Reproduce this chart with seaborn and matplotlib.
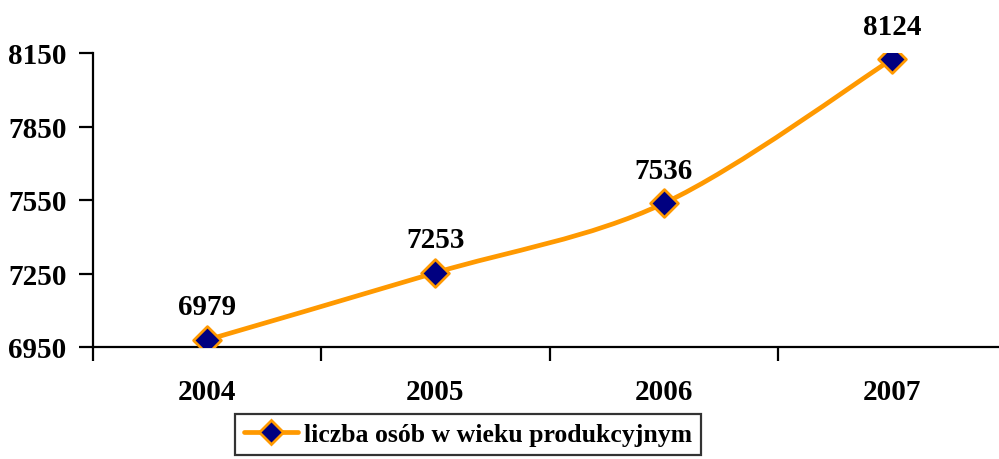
import matplotlib
matplotlib.use("Agg")
import matplotlib.pyplot as plt
import seaborn as sns
import pandas as pd
import numpy as np
from matplotlib.path import Path
from matplotlib.patches import PathPatch
from matplotlib.lines import Line2D

years = ["2004", "2005", "2006", "2007"]
values = [6979, 7253, 7536, 8124]
series_name = "liczba osób w wieku produkcyjnym"
y_ticks = [6950, 7250, 7550, 7850, 8150]

sns.set_theme(style="white")
plt.rcParams['font.family'] = ['Liberation Serif', 'DejaVu Serif']
plt.rcParams['font.weight'] = 'bold'
plt.rcParams['text.color'] = 'black'
plt.rcParams['xtick.color'] = 'black'
plt.rcParams['ytick.color'] = 'black'
plt.rcParams['xtick.labelcolor'] = 'black'
plt.rcParams['ytick.labelcolor'] = 'black'

LINE = "#FF9900"
FILL = "#000080"

fig = plt.figure(figsize=(9.99, 4.6), dpi=100)
W, H = 999, 460
ax = fig.add_axes([93 / W, 1 - 348 / H, (1006 - 93) / W, (348 - 54) / H])

df = pd.DataFrame({"x": np.arange(len(years)), "y": values})

# smooth (Excel-style Bezier) line through the data points
xs = df["x"].to_numpy(float)
ys = df["y"].to_numpy(float)
pts = np.column_stack([xs, ys])
ext = np.vstack([pts[0], pts, pts[-1]])
verts = [tuple(pts[0])]
codes = [Path.MOVETO]
for i in range(len(pts) - 1):
    p0, p1, p2, p3 = ext[i], ext[i + 1], ext[i + 2], ext[i + 3]
    c1 = p1 + (p2 - p0) / 6.0
    c2 = p2 - (p3 - p1) / 6.0
    verts += [tuple(c1), tuple(c2), tuple(p2)]
    codes += [Path.CURVE4] * 3
ax.add_patch(PathPatch(Path(verts, codes), facecolor="none", edgecolor=LINE,
                       lw=3.4, capstyle="round", joinstyle="round", zorder=2))

sns.scatterplot(data=df, x="x", y="y", marker="D", s=200, color=FILL,
                edgecolor=LINE, linewidth=2.0, ax=ax, zorder=3, legend=False)

for xi, yi in zip(xs, ys):
    ax.annotate(f"{int(yi)}", (xi, yi), xytext=(0, 14), textcoords="offset points",
                ha="center", va="bottom", fontsize=21, fontweight="bold", color="black")

ax.set_xlim(-0.5, len(years) - 0.5)
ax.set_ylim(6950, 8150)
ax.set_yticks(y_ticks)
ax.set_yticklabels([str(t) for t in y_ticks])
ax.set_xticks(np.arange(len(years)))
ax.set_xticklabels(years)
ax.set_xticks(np.arange(len(years) + 1) - 0.5, minor=True)
ax.tick_params(axis="x", which="major", length=0, pad=22, labelsize=21, labelcolor="black")
ax.tick_params(axis="x", which="minor", length=10, width=1.6, direction="out", color="black", bottom=True)
ax.tick_params(axis="y", which="major", length=10, width=1.6, direction="out", color="black",
               left=True, pad=9, labelsize=21, labelcolor="black")
for lab in ax.get_xticklabels() + ax.get_yticklabels():
    lab.set_fontweight("bold")
ax.set_xlabel("")
ax.set_ylabel("")
for s in ["top", "right"]:
    ax.spines[s].set_visible(False)
for s in ["left", "bottom"]:
    ax.spines[s].set_color("black")
    ax.spines[s].set_linewidth(1.6)
ax.grid(False)

handle = Line2D([0], [0], color=LINE, lw=3.4, marker="D", markersize=12,
                markerfacecolor=FILL, markeredgecolor=LINE, markeredgewidth=2.0)
leg = fig.legend([handle], [series_name], loc="upper center",
                 bbox_to_anchor=(468 / W, 1 - 415 / H), frameon=True, fancybox=False,
                 edgecolor="black", prop={"size": 18.5, "weight": "bold"},
                 handlelength=2.1, handletextpad=0.2, borderpad=0.35, borderaxespad=0)
leg.get_frame().set_linewidth(1.6)
for t in leg.get_texts():
    t.set_color("black")

fig.savefig("out.png", dpi=100)
